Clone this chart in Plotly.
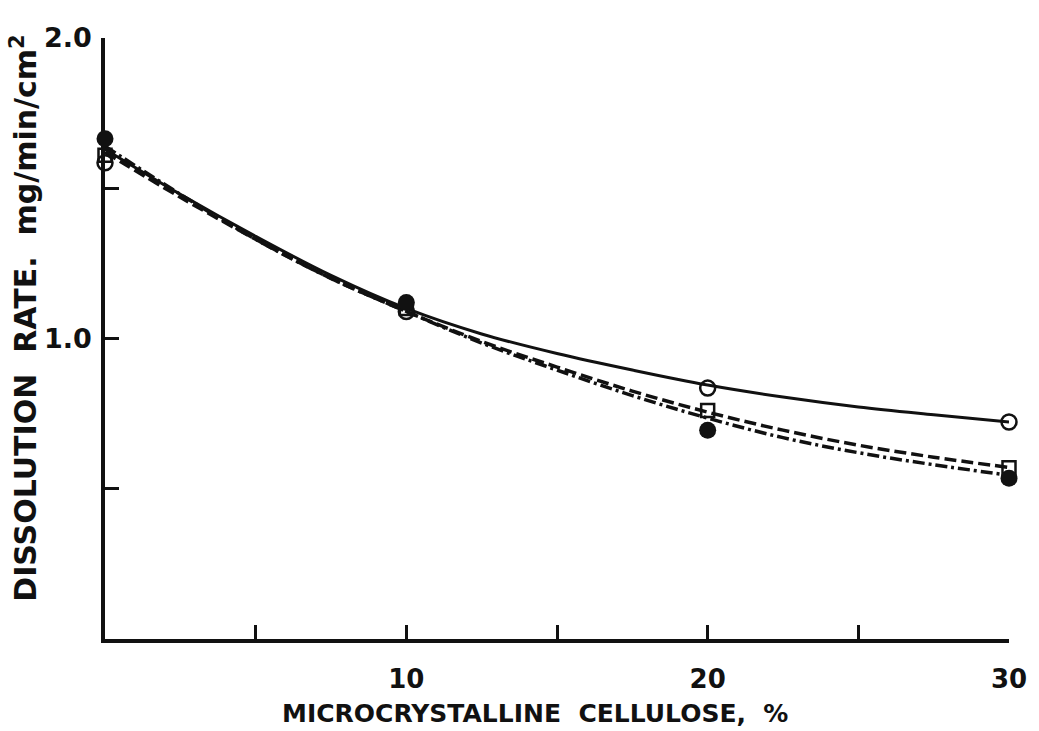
import plotly.graph_objects as go

# Measured points
pt_x = [0, 10, 20, 30]
open_circle_y = [1.585, 1.09, 0.835, 0.722]
square_y = [1.61, 1.10, 0.76, 0.57]
filled_circle_y = [1.665, 1.12, 0.695, 0.535]

# Smooth curves
curve_x = [0, 2.5, 5, 7.5, 10, 12.5, 15, 17.5, 20, 22.5, 25, 27.5, 30]
solid_y = [1.63, 1.48, 1.34, 1.21, 1.10, 1.015, 0.95, 0.895, 0.845, 0.805, 0.772, 0.746, 0.722]
dashed_y = [1.62, 1.47, 1.33, 1.20, 1.09, 0.99, 0.905, 0.825, 0.755, 0.695, 0.645, 0.605, 0.571]
dashdot_y = [1.64, 1.48, 1.33, 1.20, 1.09, 0.985, 0.895, 0.81, 0.735, 0.67, 0.62, 0.58, 0.545]

x_major = [10, 20, 30]
x_minor = [5, 15, 25]
y_major = [1.0, 2.0]
y_minor = [0.5, 1.5]

FONT = "DejaVu Sans"
INK = "#111"
fig = go.Figure()

fig.add_trace(go.Scatter(x=curve_x, y=solid_y, mode="lines", line=dict(color=INK, width=3, shape="spline")))
fig.add_trace(go.Scatter(x=curve_x, y=dashed_y, mode="lines", line=dict(color=INK, width=3.5, shape="spline", dash="12px,5px")))
fig.add_trace(go.Scatter(x=curve_x, y=dashdot_y, mode="lines", line=dict(color=INK, width=3.5, shape="spline", dash="12px,4px,3px,4px")))

fig.add_trace(go.Scatter(x=pt_x, y=open_circle_y, mode="markers", cliponaxis=False,
                         marker=dict(symbol="circle-open", size=15, color=INK, line=dict(width=2.5, color=INK))))
fig.add_trace(go.Scatter(x=pt_x, y=square_y, mode="markers", cliponaxis=False,
                         marker=dict(symbol="square-open", size=13, color=INK, line=dict(width=2.5, color=INK))))
fig.add_trace(go.Scatter(x=pt_x, y=filled_circle_y, mode="markers", cliponaxis=False,
                         marker=dict(symbol="circle", size=17, color=INK)))

tick_common = dict(showgrid=False, zeroline=False, showline=True, linecolor=INK, linewidth=3.5,
                   ticks="inside", ticklen=14, tickwidth=2.5, tickcolor=INK)

fig.update_layout(
    width=1039, height=731,
    margin=dict(l=105, r=22, t=38, b=92),
    paper_bgcolor="white", plot_bgcolor="white",
    showlegend=False,
    font=dict(family=FONT, color=INK, size=24, weight="bold"),
    xaxis=dict(range=[0, 30], tickvals=x_major, ticktext=[str(v) for v in x_major], ticklabelstandoff=14,
               tickfont=dict(family=FONT, size=26, weight="bold", color=INK),
               minor=dict(tickvals=x_minor, ticks="inside", ticklen=14, tickwidth=2.5, tickcolor=INK, showgrid=False),
               **tick_common),
    yaxis=dict(range=[0, 2.0], tickvals=y_major, ticktext=[f"{v:.1f}" for v in y_major], ticklabelstandoff=4,
               tickfont=dict(family=FONT, size=27, weight="bold", color=INK),
               minor=dict(tickvals=y_minor, ticks="inside", ticklen=14, tickwidth=2.5, tickcolor=INK, showgrid=False),
               **tick_common),
)

fig.add_annotation(text="MICROCRYSTALLINE  CELLULOSE,  %", xref="paper", yref="paper",
                   x=(539 - 105) / 912, y=-(714 - 639) / 601, xanchor="center", yanchor="middle",
                   showarrow=False, font=dict(family=FONT, size=25, weight="bold", color=INK))
fig.add_annotation(text="DISSOLUTION  RATE.  mg/min/cm<sup>2</sup>", xref="paper", yref="paper",
                   x=-(105 - 23) / 912, y=(639 - 318) / 601, xanchor="center", yanchor="middle", textangle=-90,
                   showarrow=False, font=dict(family=FONT, size=30, weight="bold", color=INK))

fig.write_html("out.html")
